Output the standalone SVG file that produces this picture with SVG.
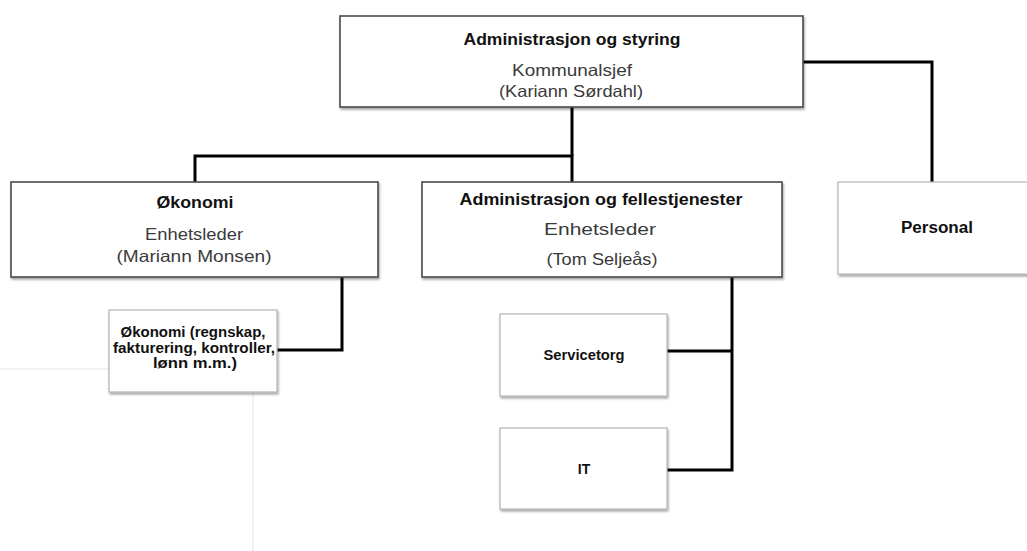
<svg xmlns="http://www.w3.org/2000/svg" width="1027" height="551" viewBox="0 0 1027 551">
  <defs>
    <filter id="shadow" x="-5%" y="-5%" width="115%" height="125%">
      <feDropShadow dx="1" dy="2" stdDeviation="1.2" flood-color="#000" flood-opacity="0.35"/>
    </filter>
  </defs>
  <style>
    .box { fill: #ffffff; filter: url(#shadow); }
    .dark { stroke: #4a4a4a; stroke-width: 1.6; }
    .light { stroke: #b4b4b4; stroke-width: 1.2; }
    .conn { fill: none; stroke: #000; stroke-width: 3; stroke-linejoin: miter; }
    .faint { fill: none; stroke: #f1f1f1; stroke-width: 2; }
    text { font-family: "Liberation Sans", Arial, sans-serif; text-anchor: middle; }
    .b { font-weight: bold; fill: #111; }
    .r { fill: #3a3a3a; }
  </style>

  <rect width="1027" height="551" fill="#ffffff"/>

  <!-- faint background guide -->
  <path class="faint" d="M0,369 H245 Q253,369 253,377 V551"/>

  <!-- connectors -->
  <g id="connectors">
    <path class="conn" d="M572,107 V156"/>
    <path class="conn" d="M195,182 V156 H572 V182"/>
    <path class="conn" d="M803,62 H932 V182"/>
    <path class="conn" d="M342,277 V350 H277"/>
    <path class="conn" d="M732,277 V470 H667"/>
    <path class="conn" d="M667,351 H732"/>
  </g>

  <g id="node-admin-styring">
    <rect class="box dark" x="340" y="16" width="463" height="91"/>
    <text class="b" x="572" y="45" font-size="17" textLength="217" lengthAdjust="spacingAndGlyphs">Administrasjon og styring</text>
    <text class="r" x="572" y="76" font-size="16.5" textLength="120" lengthAdjust="spacingAndGlyphs">Kommunalsjef</text>
    <text class="r" x="571" y="97" font-size="16.5" textLength="144" lengthAdjust="spacingAndGlyphs">(Kariann Sørdahl)</text>
  </g>

  <g id="node-okonomi">
    <rect class="box dark" x="11" y="182" width="367" height="95"/>
    <text class="b" x="195" y="208" font-size="17" textLength="77" lengthAdjust="spacingAndGlyphs">Økonomi</text>
    <text class="r" x="194" y="240" font-size="16.5" textLength="98" lengthAdjust="spacingAndGlyphs">Enhetsleder</text>
    <text class="r" x="194" y="262" font-size="16.5" textLength="155" lengthAdjust="spacingAndGlyphs">(Mariann Monsen)</text>
  </g>

  <g id="node-admin-fellestjenester">
    <rect class="box dark" x="422" y="182" width="360" height="95"/>
    <text class="b" x="601" y="205" font-size="17" textLength="283" lengthAdjust="spacingAndGlyphs">Administrasjon og fellestjenester</text>
    <text class="r" x="600" y="235" font-size="16.5" textLength="112" lengthAdjust="spacingAndGlyphs">Enhetsleder</text>
    <text class="r" x="602" y="265" font-size="16.5" textLength="111" lengthAdjust="spacingAndGlyphs">(Tom Seljeås)</text>
  </g>

  <g id="node-personal">
    <rect class="box light" x="838" y="182" width="200" height="92"/>
    <text class="b" x="937" y="233" font-size="16" textLength="72" lengthAdjust="spacingAndGlyphs">Personal</text>
  </g>

  <g id="node-okonomi-sub">
    <rect class="box light" x="109" y="310" width="168" height="82"/>
    <text class="b" x="193" y="337" font-size="14" textLength="145" lengthAdjust="spacingAndGlyphs">Økonomi (regnskap,</text>
    <text class="b" x="194" y="353" font-size="14" textLength="162" lengthAdjust="spacingAndGlyphs">fakturering, kontroller,</text>
    <text class="b" x="195" y="368" font-size="14" textLength="84" lengthAdjust="spacingAndGlyphs">lønn m.m.)</text>
  </g>

  <g id="node-servicetorg">
    <rect class="box light" x="500" y="314" width="167" height="82"/>
    <text class="b" x="584" y="360" font-size="14" textLength="81" lengthAdjust="spacingAndGlyphs">Servicetorg</text>
  </g>

  <g id="node-it">
    <rect class="box light" x="500" y="428" width="167" height="81"/>
    <text class="b" x="584" y="474" font-size="14">IT</text>
  </g>
</svg>
